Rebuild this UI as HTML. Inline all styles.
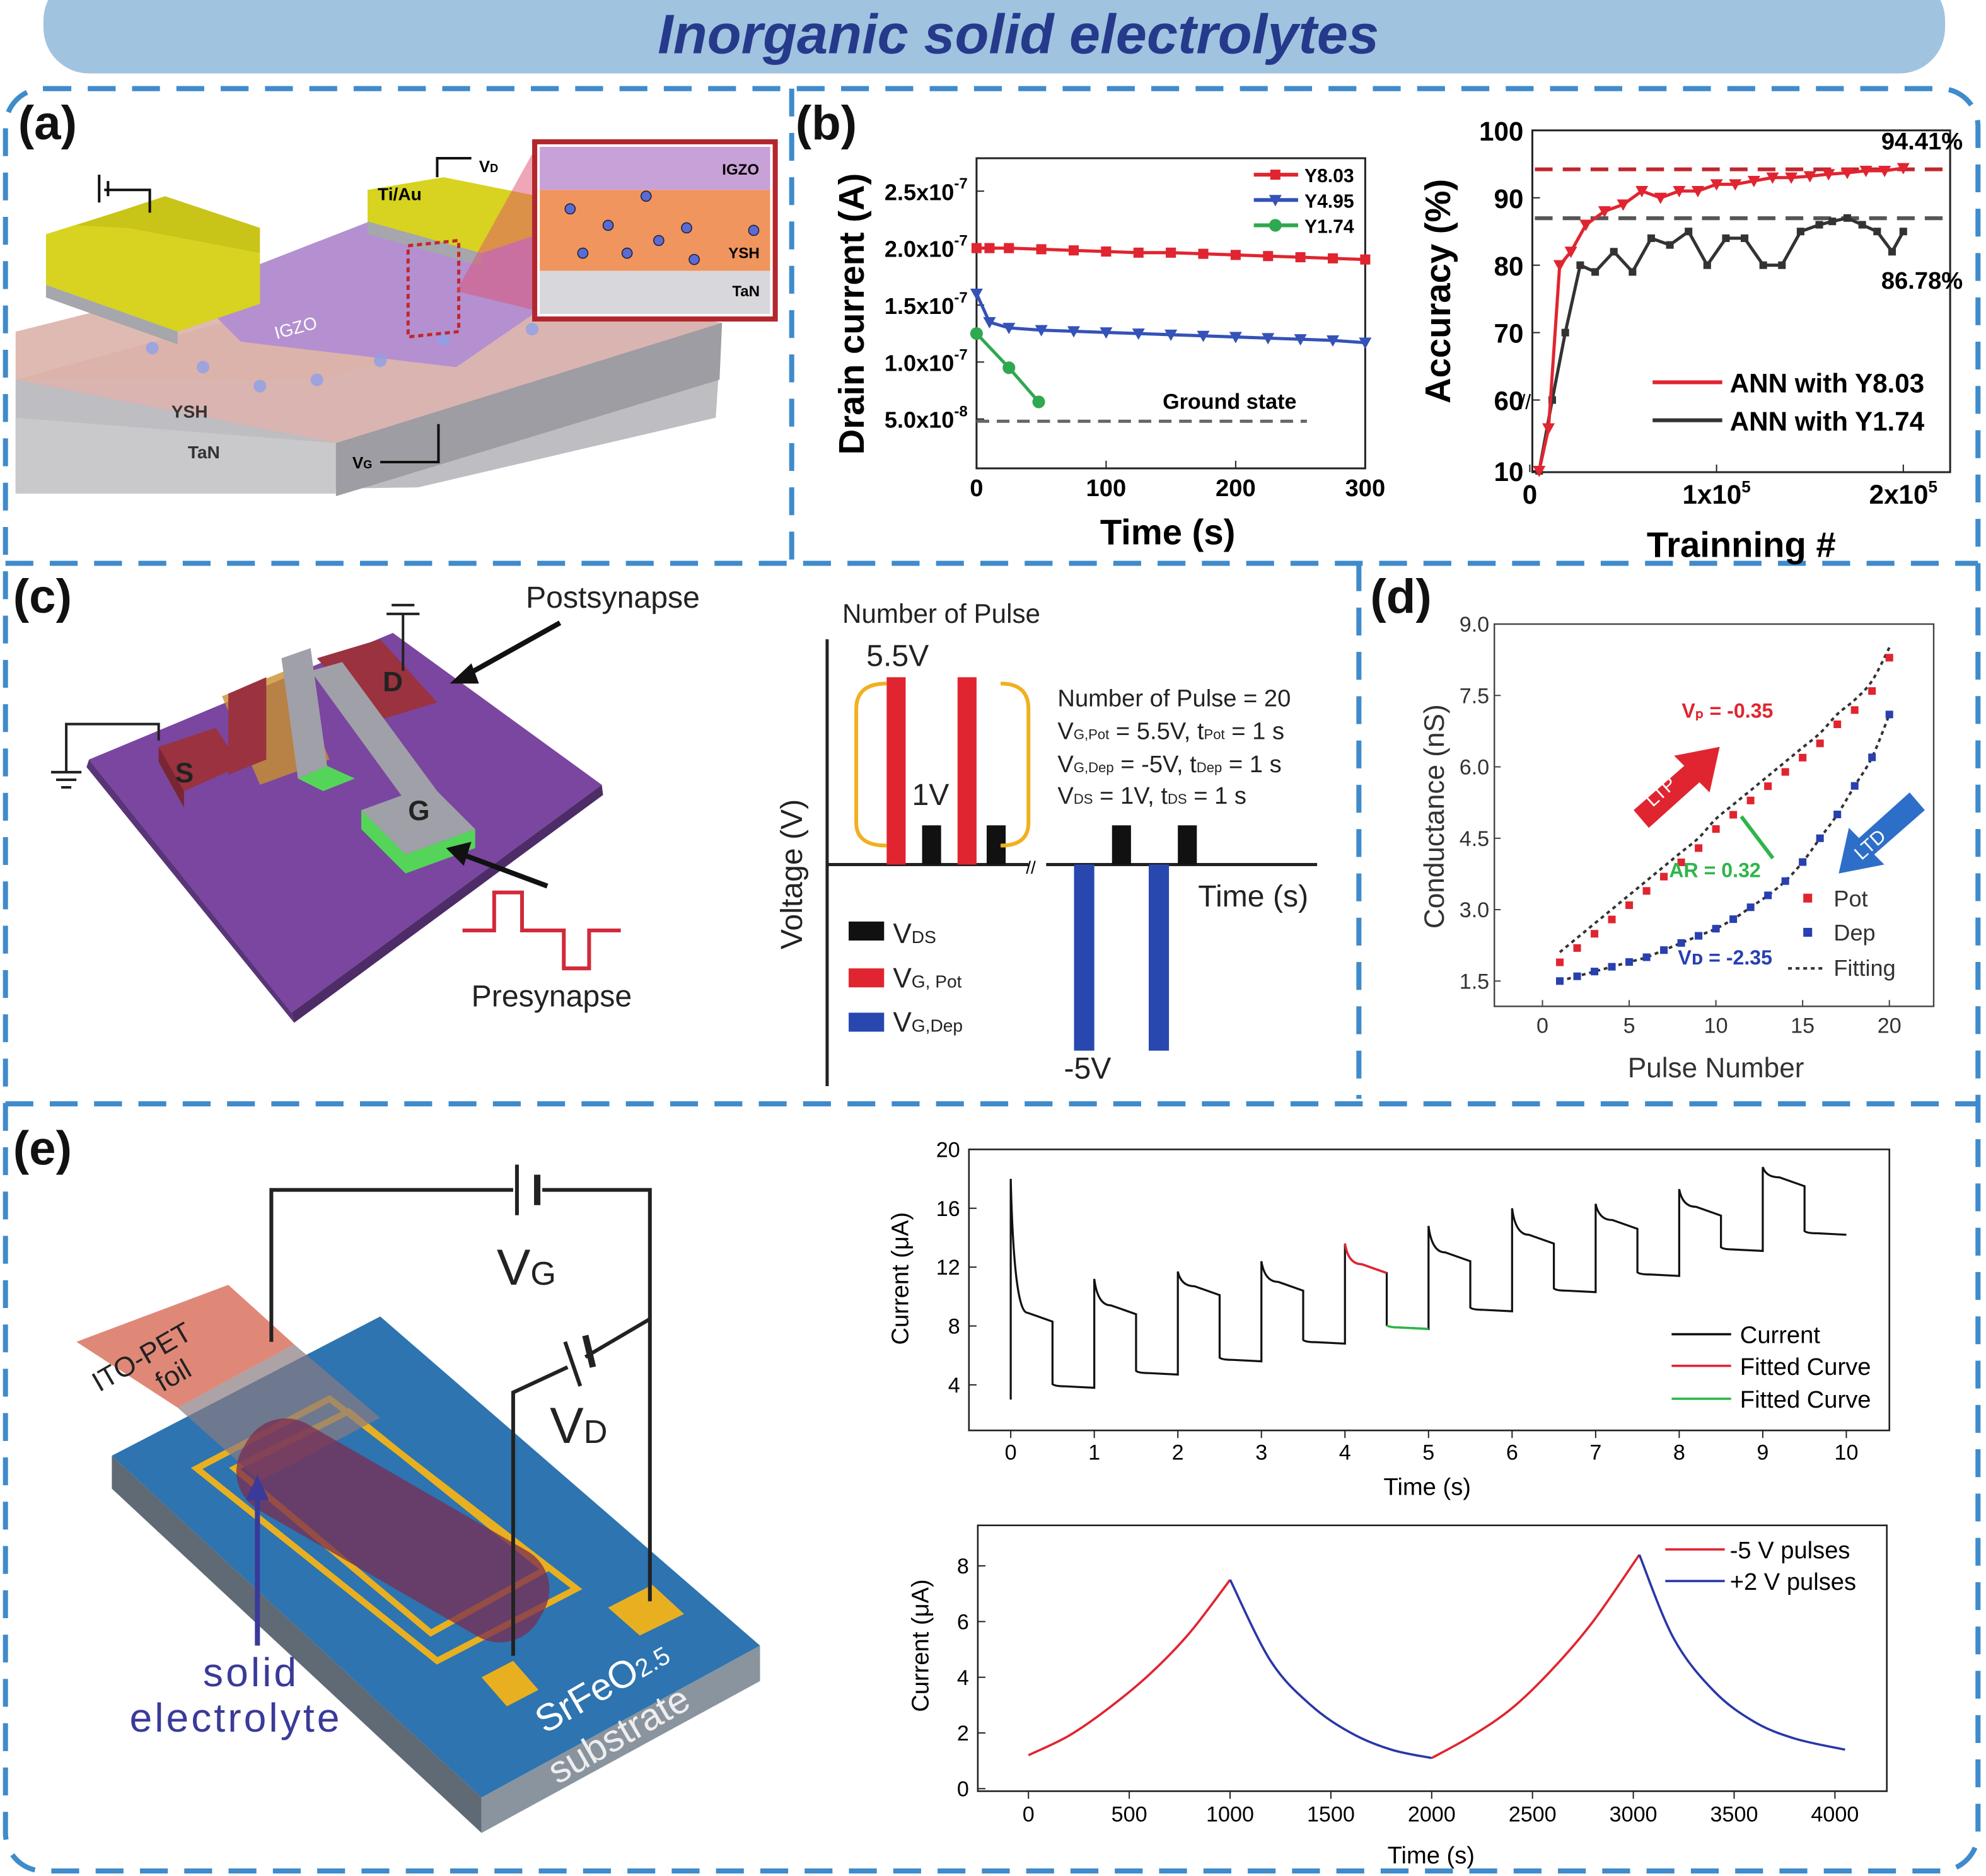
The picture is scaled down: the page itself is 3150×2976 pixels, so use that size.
<!DOCTYPE html>
<html><head><meta charset="utf-8"><style>
html,body{margin:0;padding:0;background:#fff}
svg{display:block}
text{font-family:"Liberation Sans",Arial,sans-serif}
</style></head><body>
<svg id="root" width="3150" height="2976" viewBox="0 0 1568 1482" xmlns="http://www.w3.org/2000/svg">
<rect x="34" y="-20" width="1502" height="78" rx="36" fill="#a0c3e0"/>
<text x="804" y="42" text-anchor="middle" font-size="44" font-weight="bold" font-style="italic" fill="#263a8c">Inorganic solid electrolytes</text>
<g fill="none" stroke="#3f8bcb" stroke-width="4" stroke-dasharray="22 13">
<rect x="4" y="70" width="1558" height="1408" rx="30"/>
<line x1="4" y1="445" x2="1562" y2="445"/>
<line x1="4" y1="872" x2="1562" y2="872"/>
<line x1="625" y1="70" x2="625" y2="445"/>
<line x1="1073" y1="445" x2="1073" y2="868"/>
</g>
<g font-size="38" font-weight="bold" fill="#111">
<text x="14" y="110">(a)</text><text x="628" y="110">(b)</text><text x="10" y="484">(c)</text><text x="1082" y="484">(d)</text><text x="10" y="920">(e)</text>
</g>

<g>
<polygon points="12,300 320,215 570,255 565,330 330,385 12,390" fill="#bdbdc2"/>
<polygon points="12,300 320,215 570,255 265,350" fill="#d9b4b0"/>
<polygon points="12,330 265,350 265,390 12,390" fill="#c9c9cc"/>
<polygon points="265,350 570,255 568,300 265,392" fill="#9d9da3"/>
<polygon points="12,262 300,190 540,225 250,300 12,300" fill="#dcb2ab" opacity="0.9"/>
<polygon points="150,230 330,160 520,180 360,290 190,270" fill="#b490d0"/>
<polygon points="36,185 100,165 100,180 205,200 205,240 140,262 36,225" fill="#d7d320"/>
<polygon points="60,178 130,155 205,180 205,200 100,180" fill="#c8c418"/>
<polygon points="36,225 140,262 140,272 36,235" fill="#a6a6ad"/>
<polygon points="290,150 350,140 425,155 425,185 380,200 290,175" fill="#d7d320"/>
<polygon points="290,175 380,200 380,210 290,185" fill="#a6a6ad"/>
<text x="298" y="158" font-size="14" font-weight="bold">Ti/Au</text>
<text x="218" y="268" font-size="14" fill="#fff" transform="rotate(-15 218 268)">IGZO</text>
<text x="135" y="330" font-size="14" font-weight="bold" fill="#333">YSH</text>
<text x="148" y="362" font-size="14" font-weight="bold" fill="#333">TaN</text>
<text x="278" y="370" font-size="13" font-weight="bold">V<tspan font-size="9">G</tspan></text>
<text x="378" y="136" font-size="13" font-weight="bold">V<tspan font-size="9">D</tspan></text>
<polyline points="300,365 346,365 346,335" fill="none" stroke="#111" stroke-width="2"/>
<polyline points="345,140 345,125 372,125" fill="none" stroke="#111" stroke-width="2"/>
<polyline points="82,150 118,150 118,168" fill="none" stroke="#111" stroke-width="2"/>
<line x1="78" y1="138" x2="78" y2="160" stroke="#111" stroke-width="2"/><line x1="85" y1="143" x2="85" y2="155" stroke="#111" stroke-width="2"/>
<g fill="#8fa0e8" opacity="0.8"><circle cx="160" cy="290" r="5"/><circle cx="205" cy="305" r="5"/><circle cx="250" cy="300" r="5"/><circle cx="300" cy="285" r="5"/><circle cx="350" cy="268" r="5"/><circle cx="420" cy="260" r="5"/><circle cx="120" cy="275" r="5"/></g>
<rect x="322" y="228" width="40" height="72" fill="none" stroke="#c0272d" stroke-width="2.5" stroke-dasharray="4 3" transform="skewY(-6)"/>
<polygon points="360,230 422,118 422,245" fill="#e05070" opacity="0.5"/>
<rect x="422" y="112" width="190" height="140" fill="#fff" stroke="#b2272d" stroke-width="4"/>
<rect x="426" y="116" width="182" height="34" fill="#c8a1d8"/>
<rect x="426" y="150" width="182" height="64" fill="#f0955e"/>
<rect x="426" y="214" width="182" height="34" fill="#d8d8dc"/>
<text x="570" y="138" font-size="12" font-weight="bold">IGZO</text>
<text x="575" y="204" font-size="12" font-weight="bold">YSH</text>
<text x="578" y="234" font-size="12" font-weight="bold">TaN</text>
<g fill="#5a6bd6" stroke="#223" stroke-width="0.8">
<circle cx="510" cy="155" r="4"/><circle cx="450" cy="165" r="4"/><circle cx="480" cy="178" r="4"/><circle cx="542" cy="180" r="4"/><circle cx="595" cy="182" r="4"/><circle cx="520" cy="190" r="4"/><circle cx="460" cy="200" r="4"/><circle cx="495" cy="200" r="4"/><circle cx="548" cy="205" r="4"/>
</g>
</g>

<g id="b1"></g>
<g id="b2"></g>

<g>
<polygon points="70,600 310,500 475,620 230,800" fill="#7a46a0"/>
<polygon points="70,600 230,800 232,808 68,606" fill="#5a3478"/>
<polygon points="230,800 475,620 476,628 232,808" fill="#4d2c68"/>
<polygon points="125,590 170,575 190,605 145,625" fill="#9a3240"/>
<polygon points="125,590 145,625 145,638 125,602" fill="#7a2632"/>
<polygon points="175,550 230,528 260,600 205,620" fill="#c89030" opacity="0.8"/>
<polygon points="180,548 210,535 210,600 180,612" fill="#9a3240"/>
<polygon points="250,520 300,505 345,555 295,570" fill="#9a3240"/>
<polygon points="222,520 245,512 258,605 235,615" fill="#a0a0a8"/>
<polygon points="245,530 270,523 345,625 320,633" fill="#a0a0a8"/>
<polygon points="285,640 340,620 375,655 320,675" fill="#a0a0a8"/>
<polygon points="285,655 320,690 375,670 375,655 320,675 285,640" fill="#55d45a"/>
<polygon points="235,615 258,605 280,615 255,625" fill="#55d45a"/>
<text x="138" y="618" font-size="22" font-weight="bold" fill="#222">S</text>
<text x="302" y="546" font-size="22" font-weight="bold" fill="#222">D</text>
<text x="322" y="648" font-size="22" font-weight="bold" fill="#222">G</text>
<polyline points="125,585 125,572 52,572 52,610" fill="none" stroke="#222" stroke-width="2"/>
<line x1="40" y1="610" x2="64" y2="610" stroke="#222" stroke-width="2"/><line x1="44" y1="616" x2="60" y2="616" stroke="#222" stroke-width="2"/><line x1="48" y1="622" x2="56" y2="622" stroke="#222" stroke-width="2"/>
<polyline points="318,530 318,485" stroke="#222" stroke-width="2"/>
<line x1="305" y1="485" x2="331" y2="485" stroke="#222" stroke-width="2"/><line x1="309" y1="478" x2="327" y2="478" stroke="#222" stroke-width="2"/>
<text x="415" y="480" font-size="24" fill="#222">Postsynapse</text>
<line x1="442" y1="492" x2="365" y2="535" stroke="#111" stroke-width="4"/><polygon points="355,540 372,524 378,540" fill="#111"/>
<line x1="432" y1="700" x2="365" y2="675" stroke="#111" stroke-width="4"/><polygon points="352,670 372,665 366,684" fill="#111"/>
<polyline points="365,735 390,735 390,705 412,705 412,735 445,735 445,765 465,765 465,735 490,735" fill="none" stroke="#d12a3a" stroke-width="3"/>
<text x="372" y="795" font-size="24" fill="#222">Presynapse</text>
</g>

<g>
<text x="665" y="492" font-size="21" fill="#222">Number of Pulse</text>
<line x1="653" y1="505" x2="653" y2="858" stroke="#222" stroke-width="2.5"/>
<line x1="653" y1="683" x2="812" y2="683" stroke="#222" stroke-width="2.5"/>
<line x1="826" y1="683" x2="1040" y2="683" stroke="#222" stroke-width="2.5"/>
<text x="810" y="690" font-size="14">//</text>
<text x="633" y="750" font-size="24" fill="#222" transform="rotate(-90 633 750)">Voltage (V)</text>
<rect x="700" y="535" width="15" height="148" fill="#e02530"/><rect x="756" y="535" width="15" height="148" fill="#e02530"/>
<rect x="728" y="652" width="15" height="31" fill="#111"/><rect x="779" y="652" width="15" height="31" fill="#111"/>
<rect x="848" y="683" width="16" height="147" fill="#2848b0"/><rect x="907" y="683" width="16" height="147" fill="#2848b0"/>
<rect x="878" y="652" width="15" height="31" fill="#111"/><rect x="930" y="652" width="15" height="31" fill="#111"/>
<path d="M700,540 Q676,540 676,560 L676,650 Q676,668 700,668" fill="none" stroke="#f0b020" stroke-width="3"/>
<path d="M790,540 Q812,540 812,560 L812,650 Q812,668 790,668" fill="none" stroke="#f0b020" stroke-width="3"/>
<text x="684" y="526" font-size="24" fill="#222">5.5V</text>
<text x="720" y="636" font-size="24" fill="#222">1V</text>
<text x="840" y="852" font-size="24" fill="#222">-5V</text>
<text x="946" y="716" font-size="24" fill="#222">Time (s)</text>
<g font-size="19" fill="#222">
<text x="835" y="558">Number of Pulse = 20</text>
<text x="835" y="584">V<tspan font-size="11">G,Pot</tspan> =  5.5V,  t<tspan font-size="11">Pot</tspan>  = 1 s</text>
<text x="835" y="610">V<tspan font-size="11">G,Dep</tspan> = -5V,  t<tspan font-size="11">Dep</tspan> = 1 s</text>
<text x="835" y="635">V<tspan font-size="11">DS</tspan> = 1V,  t<tspan font-size="11">DS</tspan> = 1 s</text>
</g>
<rect x="670" y="728" width="28" height="15" fill="#111"/><text x="705" y="745" font-size="22" fill="#222">V<tspan font-size="14">DS</tspan></text>
<rect x="670" y="765" width="28" height="15" fill="#e02530"/><text x="705" y="780" font-size="22" fill="#222">V<tspan font-size="14">G, Pot</tspan></text>
<rect x="670" y="800" width="28" height="15" fill="#2848b0"/><text x="705" y="815" font-size="22" fill="#222">V<tspan font-size="14">G,Dep</tspan></text>
</g>

<g id="dch"></g>

<g>
<polygon points="88,1150 300,1040 600,1300 380,1420" fill="#2d74b0"/>
<polygon points="88,1150 380,1420 380,1448 88,1176" fill="#606a75"/>
<polygon points="380,1420 600,1300 600,1328 380,1448" fill="#8a949e"/>
<g fill="none" stroke="#e8b020" stroke-width="5">
<polygon points="155,1160 260,1105 455,1255 345,1312"/>
<polygon points="185,1160 275,1115 430,1240 340,1290"/>
</g>
<polygon points="380,1325 405,1312 425,1335 400,1348" fill="#e8b020"/>
<polygon points="480,1270 515,1252 540,1275 505,1292" fill="#e8b020"/>
<polygon points="60,1060 180,1015 232,1062 140,1112" fill="#e08878"/>
<polygon points="140,1112 232,1062 300,1120 205,1170" fill="#8a7a80" opacity="0.7"/>
<rect x="175" y="1170" width="270" height="78" rx="35" fill="#7a2c52" opacity="0.75" transform="rotate(30 310 1209)"/>
<polyline points="214,1060 214,940 405,940" fill="none" stroke="#222" stroke-width="3"/>
<polyline points="428,940 513,940 513,1265" fill="none" stroke="#222" stroke-width="3"/>
<line x1="408" y1="920" x2="408" y2="960" stroke="#222" stroke-width="3"/><line x1="424" y1="928" x2="424" y2="952" stroke="#222" stroke-width="5"/>
<polyline points="405,1308 405,1100 448,1080" fill="none" stroke="#222" stroke-width="3"/>
<polyline points="462,1072 513,1042" fill="none" stroke="#222" stroke-width="3"/>
<line x1="446" y1="1060" x2="458" y2="1095" stroke="#222" stroke-width="3"/><line x1="462" y1="1055" x2="468" y2="1080" stroke="#222" stroke-width="5"/>
<text x="392" y="1015" font-size="40" fill="#222">V<tspan font-size="26">G</tspan></text>
<text x="434" y="1140" font-size="40" fill="#222">V<tspan font-size="26">D</tspan></text>
<text x="78" y="1100" font-size="22" fill="#222" transform="rotate(-30 78 1100)">ITO-PET</text>
<text x="128" y="1100" font-size="22" fill="#222" transform="rotate(-30 128 1100)">foil</text>
<line x1="203" y1="1300" x2="203" y2="1180" stroke="#3a3a9a" stroke-width="4"/><polygon points="194,1185 212,1185 203,1165" fill="#3a3a9a"/>
<text x="160" y="1332" font-size="32" fill="#3a3a9a" letter-spacing="2">solid</text>
<text x="102" y="1368" font-size="32" fill="#3a3a9a" letter-spacing="2">electrolyte</text>
<text x="430" y="1370" font-size="30" fill="#fff" transform="rotate(-30 430 1370)">SrFeO<tspan font-size="20">2.5</tspan></text>
<text x="440" y="1410" font-size="30" fill="#eee" transform="rotate(-30 440 1410)">substrate</text>
</g>

<g id="e1"></g>
<g id="e2"></g>
</svg>
<script>
const b1Time=[0,10,25,50,75,100,125,150,175,200,225,250,275,300];
const b1Y803=[2.0,2.0,2.0,1.99,1.98,1.97,1.96,1.96,1.95,1.94,1.93,1.92,1.91,1.90];
const b1Y495=[1.6,1.35,1.3,1.28,1.27,1.26,1.25,1.24,1.23,1.22,1.21,1.20,1.19,1.17];
const b1Y174Time=[0,25,48];
const b1Y174=[1.25,0.95,0.65];
const b1Ground=0.48;
const b1YTicks=[0.5,1.0,1.5,2.0,2.5];
const b1YLabels=['5.0x10','1.0x10','1.5x10','2.0x10','2.5x10'];
const b1YExp=['-8','-7','-7','-7','-7'];
const b1XTicks=[0,100,200,300];
const b2RedX=[0.05,0.1,0.16,0.22,0.3,0.4,0.5,0.6,0.7,0.8,0.9,1.0,1.1,1.2,1.3,1.4,1.5,1.6,1.7,1.8,1.9,2.0];
const b2RedY=[10,40,80,82,86,88,89,91,90,91,91,92,92,92.5,93,93,93.2,93.5,93.7,94,94,94.41];
const b2BlkX=[0.05,0.12,0.19,0.27,0.35,0.45,0.55,0.65,0.75,0.85,0.95,1.05,1.15,1.25,1.35,1.45,1.55,1.62,1.7,1.78,1.86,1.94,2.0];
const b2BlkY=[10,60,70,80,79,82,79,84,83,85,80,84,84,80,80,85,86,86.5,87,86,85,82,85];
const b2YTicks=[10,60,70,80,90,100];
const b2XTicks=[0,1,2];
const b2XLabels=['0','1x10','2x10'];
const dPulse=[1,2,3,4,5,6,7,8,9,10,11,12,13,14,15,16,17,18,19,20];
const dPot=[2.0,2.3,2.6,2.9,3.2,3.5,3.8,4.1,4.4,4.8,5.1,5.4,5.7,6.0,6.3,6.6,7.0,7.3,7.7,8.4];
const dDep=[1.5,1.6,1.7,1.8,1.9,2.0,2.15,2.3,2.45,2.6,2.8,3.05,3.3,3.6,4.0,4.5,5.0,5.6,6.2,7.1];
const dYTicks=[1.5,3.0,4.5,6.0,7.5,9.0];
const dXTicks=[0,5,10,15,20];
const eCycle=[0,1,2,3,4,5,6,7,8,9];
const ePeak=[18,11.2,11.7,12.4,13.6,14.8,16.0,16.3,17.3,18.8];
const eHighEnd=[8.3,8.8,10.1,10.4,11.6,12.4,13.6,14.6,15.5,17.5];
const eLow=[3.9,4.8,5.7,6.9,7.9,9.1,10.4,11.5,13.2,14.3];
const eStart=3;
const eYTicks=[4,8,12,16,20];
const eXTicks=[0,1,2,3,4,5,6,7,8,9,10];
const fRed1T=[0,200,400,600,800,1000], fRed1=[1.2,1.9,2.9,4.1,5.6,7.5];
const fBlue1T=[1000,1200,1400,1600,1800,2000], fBlue1=[7.5,4.6,3.0,2.0,1.4,1.1];
const fRed2T=[2000,2200,2400,2600,2800,3030], fRed2=[1.1,1.9,2.9,4.3,6.0,8.4];
const fBlue2T=[3030,3200,3400,3600,3800,4050], fBlue2=[8.4,5.4,3.5,2.4,1.8,1.4];
const fYTicks=[0,2,4,6,8];
const fXTicks=[0,500,1000,1500,2000,2500,3000,3500,4000];

const NS='http://www.w3.org/2000/svg';
function mk(parent,tag,attrs,txt){const e=document.createElementNS(NS,tag);for(const k in attrs)e.setAttribute(k,attrs[k]);if(txt!==undefined)e.textContent=txt;parent.appendChild(e);return e;}
function lin(d0,d1,r0,r1){return v=>r0+(v-d0)*(r1-r0)/(d1-d0);}
function pathOf(xs,ys,sx,sy){return xs.map((x,i)=>(i?'L':'M')+sx(x).toFixed(1)+','+sy(ys[i]).toFixed(1)).join('');}
function smoothOf(xs,ys,sx,sy){const P=xs.map((x,i)=>[sx(x),sy(ys[i])]);let d='M'+P[0][0].toFixed(1)+','+P[0][1].toFixed(1);
 for(let i=0;i<P.length-1;i++){const p0=P[i-1]||P[i],p1=P[i],p2=P[i+1],p3=P[i+2]||P[i+1];
 const c1=[p1[0]+(p2[0]-p0[0])/6,p1[1]+(p2[1]-p0[1])/6],c2=[p2[0]-(p3[0]-p1[0])/6,p2[1]-(p3[1]-p1[1])/6];
 d+=`C${c1[0].toFixed(1)},${c1[1].toFixed(1)} ${c2[0].toFixed(1)},${c2[1].toFixed(1)} ${p2[0].toFixed(1)},${p2[1].toFixed(1)}`;}return d;}

(function(){
const g=document.getElementById('b1');
const sx=lin(0,300,771,1078), sy=lin(0.5,2.5,331,151);
let r=mk(g,'rect',{x:771,y:125,width:307,height:245,fill:'none',stroke:'#222','stroke-width':1.5});


b1YTicks.forEach((v,i)=>{mk(g,'line',{x1:771,y1:sy(v),x2:777,y2:sy(v),stroke:'#222'});
 const t=mk(g,'text',{x:764,y:sy(v)+7,'text-anchor':'end','font-size':18,'font-weight':'bold'});
 mk(t,'tspan',{},b1YLabels[i]);
 mk(t,'tspan',{dy:-9,'font-size':12},b1YExp[i]);
 
 });
b1XTicks.forEach(v=>{mk(g,'line',{x1:sx(v),y1:370,x2:sx(v),y2:364,stroke:'#222'});
 const t=mk(g,'text',{x:sx(v),y:392,'text-anchor':'middle','font-size':19,'font-weight':'bold'},v);
 
 });
let t=mk(g,'text',{x:922,y:430,'text-anchor':'middle','font-size':28,'font-weight':'bold'},'Time (s)');

t=mk(g,'text',{x:682,y:248,'text-anchor':'middle','font-size':28,'font-weight':'bold',transform:'rotate(-90 682 248)'},'Drain current (A)');

let gl=mk(g,'line',{x1:sx(0),y1:sy(b1Ground),x2:sx(255),y2:sy(b1Ground),stroke:'#666','stroke-width':2.5,'stroke-dasharray':'10 6'});

mk(g,'text',{x:918,y:323,'font-size':17,'font-weight':'bold'},'Ground state');
const series=[[b1Time,b1Y803,'#e02530','s'],[b1Time,b1Y495,'#3452b8','v'],[b1Y174Time,b1Y174,'#2fa84f','o']];
series.forEach(([xs,ys,c,m],k)=>{
 const p=mk(g,'path',{d:pathOf(xs,ys,sx,sy),fill:'none',stroke:c,'stroke-width':2.5});
 
 xs.forEach((x,i)=>{const X=sx(x),Y=sy(ys[i]);let e;
  if(m=='s')e=mk(g,'rect',{x:X-4,y:Y-4,width:8,height:8,fill:c});
  else if(m=='v')e=mk(g,'polygon',{points:`${X-5},${Y-4} ${X+5},${Y-4} ${X},${Y+5}`,fill:c});
  else e=mk(g,'circle',{cx:X,cy:Y,r:5,fill:c});
  });
});
const leg=[['Y8.03','#e02530','s'],['Y4.95','#3452b8','v'],['Y1.74','#2fa84f','o']];
leg.forEach(([n,c,m],i)=>{const y=138+i*20;mk(g,'line',{x1:990,y1:y,x2:1025,y2:y,stroke:c,'stroke-width':3});
 const X=1007;if(m=='s')mk(g,'rect',{x:X-4,y:y-4,width:8,height:8,fill:c});else if(m=='v')mk(g,'polygon',{points:`${X-5},${y-4} ${X+5},${y-4} ${X},${y+5}`,fill:c});else mk(g,'circle',{cx:X,cy:y,r:5,fill:c});
 const t=mk(g,'text',{x:1030,y:y+6,'font-size':15,'font-weight':'bold'},n);
 });
})();

(function(){
const g=document.getElementById('b2');
const sx=lin(0,2,1208,1503);
const sy=v=>v>=60?lin(60,100,316,103)(v):316+(60-v)*56/50;
mk(g,'rect',{x:1210,y:103,width:330,height:270,fill:'none',stroke:'#222','stroke-width':1.5});
b2YTicks.forEach(v=>{mk(g,'line',{x1:1210,y1:sy(v),x2:1216,y2:sy(v),stroke:'#222'});
 const t=mk(g,'text',{x:1203,y:sy(v)+8,'text-anchor':'end','font-size':21,'font-weight':'bold'},v);
 });
mk(g,'text',{x:1200,y:323,'font-size':16},'//');
b2XTicks.forEach((v,i)=>{mk(g,'line',{x1:sx(v),y1:373,x2:sx(v),y2:367,stroke:'#222'});
 const t=mk(g,'text',{x:sx(v),y:398,'text-anchor':'middle','font-size':21,'font-weight':'bold'},b2XLabels[i]);
 if(i>0)mk(t,'tspan',{dy:-9,'font-size':13},'5');
 });
let t=mk(g,'text',{x:1375,y:440,'text-anchor':'middle','font-size':28,'font-weight':'bold'},'Trainning #');

t=mk(g,'text',{x:1145,y:230,'text-anchor':'middle','font-size':28,'font-weight':'bold',transform:'rotate(-90 1145 230)'},'Accuracy (%)');

mk(g,'line',{x1:1212,y1:sy(94.41)+1,x2:1540,y2:sy(94.41)+1,stroke:'#c0272d','stroke-width':3,'stroke-dasharray':'14 8'});
mk(g,'line',{x1:1212,y1:sy(86.78)-1,x2:1540,y2:sy(86.78)-1,stroke:'#555','stroke-width':3,'stroke-dasharray':'14 8'});
mk(g,'text',{x:1550,y:118,'text-anchor':'end','font-size':19,'font-weight':'bold'},'94.41%');
mk(g,'text',{x:1550,y:228,'text-anchor':'end','font-size':19,'font-weight':'bold'},'86.78%');
[[b2BlkX,b2BlkY,'#333','s'],[b2RedX,b2RedY,'#e02530','v']].forEach(([xs,ys,c,m],k)=>{
 const p=mk(g,'path',{d:pathOf(xs,ys,sx,sy),fill:'none',stroke:c,'stroke-width':2.5});
 
 xs.forEach((x,i)=>{const X=sx(x),Y=sy(ys[i]);let e=m=='s'?mk(g,'rect',{x:X-3,y:Y-3,width:6,height:6,fill:c}):mk(g,'polygon',{points:`${X-5},${Y-4} ${X+5},${Y-4} ${X},${Y+5}`,fill:c});
 });
});
[['ANN with Y8.03','#e02530',302],['ANN with Y1.74','#333',332]].forEach(([n,c,y])=>{
 mk(g,'line',{x1:1305,y1:y,x2:1360,y2:y,stroke:c,'stroke-width':3});
 const t=mk(g,'text',{x:1366,y:y+8,'font-size':21,'font-weight':'bold'},n);
 });
})();

(function(){
const g=document.getElementById('dch');
const sx=lin(0,20,1218,1492), sy=lin(1.5,9.0,775,493);
mk(g,'rect',{x:1180,y:493,width:347,height:302,fill:'none',stroke:'#444','stroke-width':1.2});
dYTicks.forEach(v=>{mk(g,'line',{x1:1180,y1:sy(v),x2:1185,y2:sy(v),stroke:'#444'});
 const t=mk(g,'text',{x:1176,y:sy(v)+6,'text-anchor':'end','font-size':17,fill:'#333'},v.toFixed(1));
 });
dXTicks.forEach(v=>{mk(g,'line',{x1:sx(v),y1:795,x2:sx(v),y2:790,stroke:'#444'});
 const t=mk(g,'text',{x:sx(v),y:816,'text-anchor':'middle','font-size':17,fill:'#333'},v);
 });
let t=mk(g,'text',{x:1355,y:851,'text-anchor':'middle','font-size':22,fill:'#333'},'Pulse Number');

t=mk(g,'text',{x:1140,y:645,'text-anchor':'middle','font-size':22,fill:'#333',transform:'rotate(-90 1140 645)'},'Conductance (nS)');

[[dPot,'#e02530'],[dDep,'#2840b0']].forEach(([ys,c])=>{
 const p=mk(g,'path',{d:smoothOf(dPulse,ys,sx,sy),fill:'none',stroke:'#333','stroke-width':2,'stroke-dasharray':'3 3',transform:c=='#e02530'?'translate(0,-4)':''});
 
 dPulse.forEach((x,i)=>{const e=mk(g,'rect',{x:sx(x)-3,y:sy(ys[i])-3+(c=='#e02530'?4:0),width:6,height:6,fill:c});
 });
});
mk(g,'polygon',{points:'1290,640 1330,605 1322,597 1358,590 1350,626 1342,618 1302,654',fill:'#e02530'});
mk(g,'text',{x:1305,y:638,'font-size':15,fill:'#fff',transform:'rotate(-42 1305 638)'},'LTP');
mk(g,'polygon',{points:'1520,640 1480,675 1488,683 1452,690 1460,654 1468,662 1508,626',fill:'#2d6fc8'});
mk(g,'text',{x:1470,y:680,'font-size':15,fill:'#fff',transform:'rotate(-42 1470 680)'},'LTD');
mk(g,'text',{x:1328,y:567,'font-size':16,'font-weight':'bold',fill:'#e02530'},'V\u209A = -0.35');
mk(g,'text',{x:1325,y:762,'font-size':16,'font-weight':'bold',fill:'#2840b0'},'V\u1D05 = -2.35');
mk(g,'line',{x1:1375,y1:645,x2:1400,y2:678,stroke:'#2fb54a','stroke-width':3});
mk(g,'text',{x:1318,y:693,'font-size':16,'font-weight':'bold',fill:'#2fb54a'},'AR = 0.32');
mk(g,'rect',{x:1424,y:706,width:7,height:7,fill:'#e02530'});mk(g,'text',{x:1448,y:716,'font-size':18,fill:'#333'},'Pot');
mk(g,'rect',{x:1424,y:733,width:7,height:7,fill:'#2840b0'});mk(g,'text',{x:1448,y:743,'font-size':18,fill:'#333'},'Dep');
mk(g,'line',{x1:1412,y1:765,x2:1440,y2:765,stroke:'#333','stroke-width':2,'stroke-dasharray':'3 3'});mk(g,'text',{x:1448,y:771,'font-size':18,fill:'#333'},'Fitting');
})();

(function(){
const g=document.getElementById('e1');
const sx=lin(0,10,798,1458), sy=lin(4,20,1094,908);
mk(g,'rect',{x:765,y:908,width:727,height:222,fill:'none',stroke:'#222','stroke-width':1.3});
eYTicks.forEach(v=>{mk(g,'line',{x1:765,y1:sy(v),x2:771,y2:sy(v),stroke:'#222'});
 const t=mk(g,'text',{x:758,y:sy(v)+6,'text-anchor':'end','font-size':17},v);
 });
eXTicks.forEach(v=>{mk(g,'line',{x1:sx(v),y1:1130,x2:sx(v),y2:1136,stroke:'#222'});
 const t=mk(g,'text',{x:sx(v),y:1153,'text-anchor':'middle','font-size':17},v);
 });
let t=mk(g,'text',{x:1127,y:1181,'text-anchor':'middle','font-size':19},'Time (s)');

t=mk(g,'text',{x:717,y:1010,'text-anchor':'middle','font-size':19,transform:'rotate(-90 717 1010)'},'Current (\u03BCA)');

let d='M'+sx(0)+','+sy(eStart);
eCycle.forEach((c,i)=>{
 const prev=i?eLow[i-1]:eStart;
 const hi=eHighEnd[i]+0.6;
 d+=`L${sx(c)},${sy(prev)}L${sx(c)},${sy(ePeak[i])}Q${sx(c+0.04)},${sy(hi)} ${sx(c+0.2)},${sy(hi)}L${sx(c+0.5)},${sy(eHighEnd[i])}L${sx(c+0.5)},${sy(eLow[i]+0.15)}Q${sx(c+0.53)},${sy(eLow[i])} ${sx(c+0.65)},${sy(eLow[i])}L${sx(c+1)},${sy(eLow[i]-0.1)}`;
});
const p=mk(g,'path',{d:d,fill:'none',stroke:'#111','stroke-width':1.6});

const i=4,hi=eHighEnd[i]+0.6;
const r=mk(g,'path',{d:`M${sx(i)},${sy(ePeak[i])}Q${sx(i+0.04)},${sy(hi)} ${sx(i+0.2)},${sy(hi)}L${sx(i+0.5)},${sy(eHighEnd[i])}`,fill:'none',stroke:'#e02530','stroke-width':1.8});

const gr=mk(g,'path',{d:`M${sx(i+0.5)},${sy(eLow[i]+0.15)}Q${sx(i+0.53)},${sy(eLow[i])} ${sx(i+0.65)},${sy(eLow[i])}L${sx(i+1)},${sy(eLow[i]-0.1)}`,fill:'none',stroke:'#2fb54a','stroke-width':1.8});

[['Current','#111',1054],['Fitted Curve','#e02530',1079],['Fitted Curve','#2fb54a',1105]].forEach(([n,c,y])=>{
 mk(g,'line',{x1:1320,y1:y,x2:1367,y2:y,stroke:c,'stroke-width':1.8});
 const t=mk(g,'text',{x:1374,y:y+7,'font-size':19},n);
 });
})();

(function(){
const g=document.getElementById('e2');
const sx=lin(0,4000,812,1449), sy=lin(0,8,1413,1237);
mk(g,'rect',{x:772,y:1205,width:718,height:210,fill:'none',stroke:'#222','stroke-width':1.3});
fYTicks.forEach(v=>{mk(g,'line',{x1:772,y1:sy(v),x2:778,y2:sy(v),stroke:'#222'});
 const t=mk(g,'text',{x:765,y:sy(v)+6,'text-anchor':'end','font-size':17},v);
 });
fXTicks.forEach(v=>{mk(g,'line',{x1:sx(v),y1:1415,x2:sx(v),y2:1421,stroke:'#222'});
 const t=mk(g,'text',{x:sx(v),y:1439,'text-anchor':'middle','font-size':17},v);
 });
let t=mk(g,'text',{x:1130,y:1472,'text-anchor':'middle','font-size':19},'Time (s)');

t=mk(g,'text',{x:733,y:1300,'text-anchor':'middle','font-size':19,transform:'rotate(-90 733 1300)'},'Current (\u03BCA)');

[[fRed1T,fRed1,'#e02530'],[fBlue1T,fBlue1,'#2838a8'],[fRed2T,fRed2,'#e02530'],[fBlue2T,fBlue2,'#2838a8']].forEach(([xs,ys,c],k)=>{
 const p=mk(g,'path',{d:smoothOf(xs,ys,sx,sy),fill:'none',stroke:c,'stroke-width':1.8});
 });
[['-5 V pulses','#e02530',1224],['+2 V pulses','#2838a8',1249]].forEach(([n,c,y])=>{
 mk(g,'line',{x1:1315,y1:y,x2:1362,y2:y,stroke:c,'stroke-width':1.8});
 const t=mk(g,'text',{x:1366,y:y+7,'font-size':19},n);
 });
})();
</script>
</body></html>
